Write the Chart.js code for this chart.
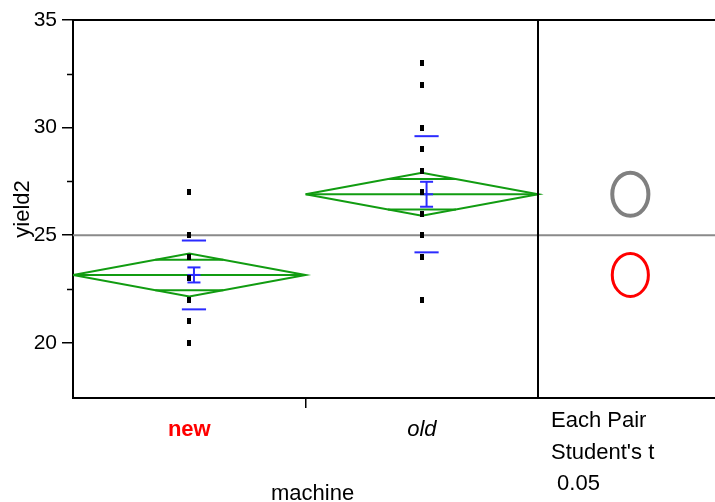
<!DOCTYPE html>
<html>
<head>
<meta charset="utf-8">
<script src="https://cdn.jsdelivr.net/npm/chart.js@4.4.1/dist/chart.umd.min.js"></script>
<style>
  html, body { margin: 0; padding: 0; background: #fff; }
</style>
</head>
<body>
<canvas id="chart" width="715" height="502"></canvas>
<script>
// groups on the machine axis, one unit wide each
const groups = ['new', 'old'];
const groupPos = [0.5, 1.5];
const newYield = [27, 25, 24, 23, 22, 21, 20];
const oldYield = [33, 32, 30, 29, 28, 27, 26, 25, 24, 22];
const groupMeans = [23.15, 26.9];
const groupSD = [1.6, 2.7];
const groupSE = [0.35, 0.58];
const ciHalf = [1.0, 1.0];       // 95% CI half width (diamond)
const grandMean = 25;
const circleRadius = [1.0, 1.0]; // comparison circles, yield units
const circleColors = ['#ff0000', '#808080'];
const circleWidths = [3, 4];
const yTicks = [20, 25, 30, 35];
const yMinorTicks = [22.5, 27.5, 32.5];
const testLabels = ['Each Pair', "Student's t", ' 0.05'];

const X_MAX = 2.76;      // right panel holds the circles
const CIRCLE_X = 2.396;
const GREEN = '#119c11';
const BLUE = '#2b2bff';

Chart.defaults.font.family = '"Liberation Sans", Arial, sans-serif';
Chart.defaults.color = '#000';

// small black bar used as point marker
const marker = document.createElement('canvas');
marker.width = 4;
marker.height = 6;
marker.getContext('2d').fillRect(0, 0, 4, 6);

function seg(x1, y1, x2, y2) {
    return [{ x: x1, y: y1 }, { x: x2, y: y2 }];
}

function lineSet(data, color, width, order) {
    return { data, showLine: true, borderColor: color, borderWidth: width, pointRadius: 0, fill: false, order };
}

const datasets = [];
[newYield, oldYield].forEach((vals, i) => {
    datasets.push({
        data: vals.map(v => ({ x: groupPos[i], y: v })),
        pointStyle: marker,
        pointRadius: 3,
        showLine: false,
        order: 0
    });
});

groups.forEach((g, i) => {
    const m = groupMeans[i], c = groupPos[i], ci = ciHalf[i];
    // diamond
    datasets.push(lineSet([
        { x: c - 0.5, y: m }, { x: c, y: m + ci }, { x: c + 0.5, y: m }, { x: c, y: m - ci }, { x: c - 0.5, y: m }
    ], GREEN, 2, 2));
    datasets.push(lineSet(seg(c - 0.5, m, c + 0.5, m), GREEN, 2, 2));
    // overlap marks
    const k = ci / Math.SQRT2, hw = 0.5 * (1 - 1 / Math.SQRT2);
    datasets.push(lineSet(seg(c - hw, m + k, c + hw, m + k), GREEN, 2, 2));
    datasets.push(lineSet(seg(c - hw, m - k, c + hw, m - k), GREEN, 2, 2));
    // std dev lines and mean error bars
    const bx = c + 0.02, sd = groupSD[i], se = groupSE[i];
    datasets.push(lineSet(seg(bx - 0.052, m + sd, bx + 0.052, m + sd), BLUE, 2, 1));
    datasets.push(lineSet(seg(bx - 0.052, m - sd, bx + 0.052, m - sd), BLUE, 2, 1));
    datasets.push(lineSet(seg(bx, m - se, bx, m + se), BLUE, 2, 1));
    [m - se, m, m + se].forEach(v => {
        datasets.push(lineSet(seg(bx - 0.028, v, bx + 0.028, v), BLUE, 2, 1));
    });
});

datasets.push(lineSet(seg(0, grandMean, X_MAX, grandMean), '#8a8a8a', 2, 3));

const framePlugin = {
    id: 'frame',
    afterDatasetsDraw(chart) {
        const { ctx, chartArea: a, scales: { x, y } } = chart;
        ctx.save();
        ctx.strokeStyle = '#000';
        ctx.lineWidth = 2;
        ctx.beginPath();
        ctx.moveTo(a.left, a.top);
        ctx.lineTo(a.right, a.top);
        const dx = Math.round(x.getPixelForValue(2));
        ctx.moveTo(dx, a.top);
        ctx.lineTo(dx, a.bottom);
        ctx.stroke();
        ctx.lineWidth = 1.5;
        ctx.beginPath();
        yMinorTicks.forEach(v => {
            const py = Math.round(y.getPixelForValue(v)) + 0.5;
            ctx.moveTo(a.left - 6, py);
            ctx.lineTo(a.left, py);
        });
        ctx.stroke();

        // comparison circles
        const cx = x.getPixelForValue(CIRCLE_X);
        groups.forEach((g, i) => {
            const cy = y.getPixelForValue(groupMeans[i]);
            const ry = Math.abs(y.getPixelForValue(groupMeans[i] + circleRadius[i]) - cy);
            ctx.beginPath();
            ctx.ellipse(cx, cy, ry * 0.84, ry, 0, 0, Math.PI * 2);
            ctx.strokeStyle = circleColors[i];
            ctx.lineWidth = circleWidths[i];
            ctx.stroke();
        });

        // axis title and test legend
        ctx.fillStyle = '#000';
        ctx.font = '22px "Liberation Sans", Arial, sans-serif';
        ctx.textAlign = 'center';
        ctx.textBaseline = 'alphabetic';
        ctx.fillText('machine', x.getPixelForValue(1) + 7, 500);
        ctx.textAlign = 'left';
        testLabels.forEach((t, i) => {
            ctx.fillText(t, dx + 13, 427 + i * 31.5);
        });
        ctx.restore();
    }
};

new Chart(document.getElementById('chart'), {
    type: 'scatter',
    data: { datasets },
    options: {
        responsive: false,
        animation: false,
        events: [],
        layout: { autoPadding: false, padding: { top: 20, right: 0, bottom: 0, left: 0 } },
        plugins: { legend: { display: false }, tooltip: { enabled: false } },
        scales: {
            x: {
                type: 'linear',
                min: 0,
                max: X_MAX,
                afterBuildTicks: s => { s.ticks = [0.5, 1, 1.5].map(v => ({ value: v })); },
                afterFit: s => { s.height = 104; s.paddingLeft = 0; s.paddingRight = 0; },
                ticks: {
                    autoSkip: false,
                    maxRotation: 0,
                    padding: 9,
                    callback: v => {
                        const i = groupPos.indexOf(v);
                        return i < 0 ? '' : groups[i];
                    },
                    font: ctx => ctx.index === 0
                        ? { size: 22, weight: 'bold' }
                        : { size: 22, style: 'italic' },
                    color: ctx => ctx.index === 0 ? '#ff0000' : '#000'
                },
                grid: {
                    drawOnChartArea: false,
                    tickLength: 10,
                    lineWidth: 1.5,
                    color: ctx => (ctx.tick && ctx.tick.value === 1) ? '#000' : 'rgba(0,0,0,0)'
                },
                border: { color: '#000', width: 2 }
            },
            y: {
                min: 17.43,
                max: 35,
                afterBuildTicks: s => { s.ticks = yTicks.map(v => ({ value: v })); },
                afterFit: s => { s.width = 73; },
                ticks: { font: { size: 21 }, padding: 5 },
                grid: { drawOnChartArea: false, tickLength: 11, lineWidth: 1.5, color: '#000' },
                border: { color: '#000', width: 2 },
                title: { display: true, text: 'yield2', font: { size: 22 }, padding: { top: 10, bottom: 0 } }
            }
        }
    },
    plugins: [framePlugin]
});
</script>
</body>
</html>
